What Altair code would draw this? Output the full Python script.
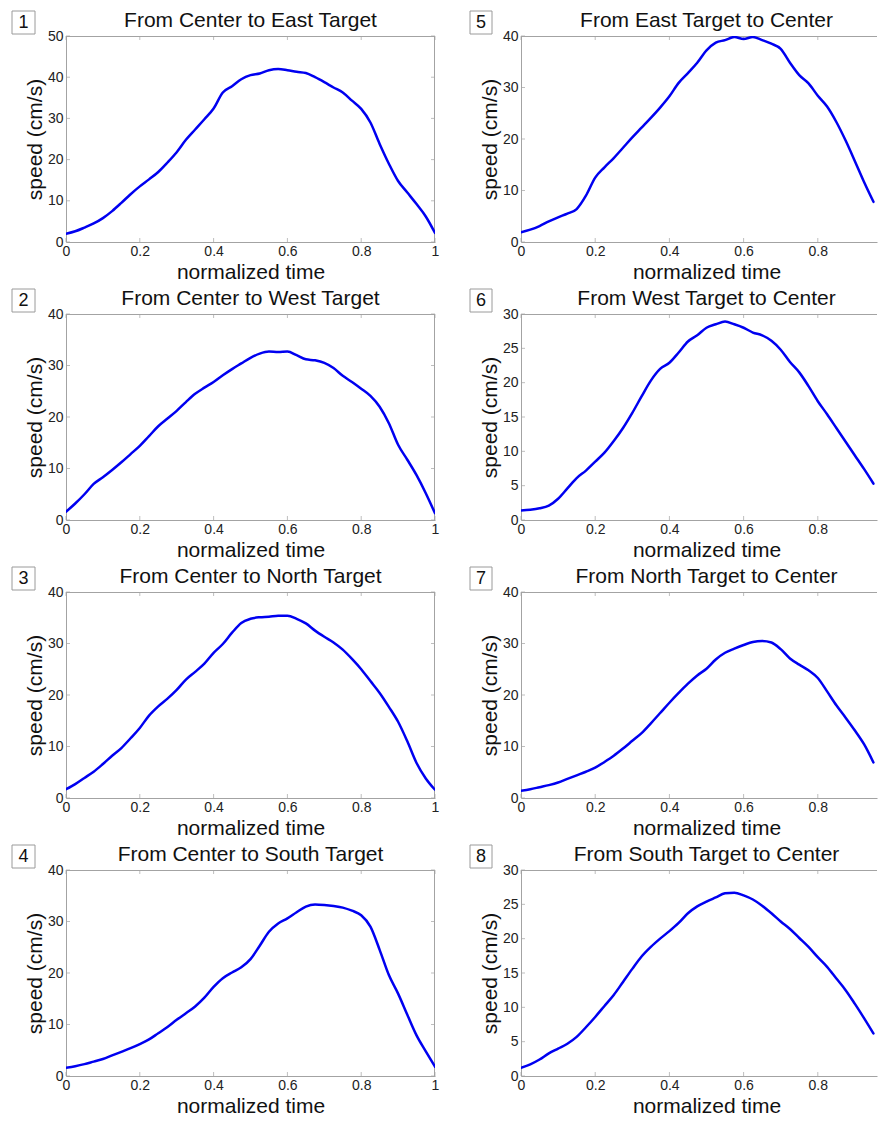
import altair as alt
import pandas as pd

# normalized time samples
T = [0, 0.025, 0.05, 0.075, 0.1, 0.125, 0.15, 0.175, 0.2, 0.225,
     0.25, 0.275, 0.3, 0.325, 0.35, 0.375, 0.4, 0.425, 0.45, 0.475,
     0.5, 0.525, 0.55, 0.575, 0.6, 0.625, 0.65, 0.675, 0.7, 0.725,
     0.75, 0.775, 0.8, 0.825, 0.85, 0.875, 0.9, 0.925, 0.95, 0.975, 1.0]

S1 = [2.0, 2.6, 3.5, 4.5, 5.8, 7.5, 9.5, 11.6, 13.5, 15.2,
      17.0, 19.3, 21.8, 24.8, 27.3, 29.8, 32.4, 36.3, 37.8, 39.5,
      40.5, 40.9, 41.7, 42.0, 41.7, 41.3, 41.0, 40.0, 38.8, 37.5,
      36.3, 34.3, 32.3, 29.0, 23.8, 19.0, 14.8, 12.0, 9.2, 6.2, 2.2]
S2 = [1.6, 3.2, 5.0, 7.0, 8.3, 9.7, 11.2, 12.8, 14.4, 16.3,
      18.2, 19.7, 21.2, 22.9, 24.5, 25.7, 26.8, 28.1, 29.3, 30.4,
      31.5, 32.3, 32.7, 32.6, 32.7, 32.0, 31.2, 31.0, 30.5, 29.5,
      28.0, 26.8, 25.5, 24.1, 22.0, 18.8, 14.6, 11.7, 8.7, 5.2, 1.3]
S3 = [1.7, 2.7, 3.9, 5.1, 6.6, 8.2, 9.7, 11.6, 13.6, 16.0,
      17.8, 19.3, 21.0, 23.0, 24.5, 26.1, 28.2, 29.9, 32.1, 34.0,
      34.8, 35.1, 35.2, 35.4, 35.4, 34.8, 33.9, 32.5, 31.3, 30.2,
      28.8, 27.0, 25.0, 22.7, 20.4, 17.7, 14.8, 11.0, 6.8, 3.8, 1.6]
S4 = [1.6, 1.9, 2.3, 2.8, 3.3, 4.0, 4.7, 5.4, 6.2, 7.1,
      8.3, 9.5, 10.9, 12.2, 13.5, 15.2, 17.3, 19.0, 20.1, 21.1,
      22.7, 25.3, 28.0, 29.6, 30.6, 31.8, 32.9, 33.3, 33.2, 33.0,
      32.7, 32.1, 31.2, 29.0, 24.5, 19.6, 16.0, 11.9, 7.9, 4.8, 1.8]
S5 = [1.9, 2.4, 3.1, 4.0, 4.8, 5.5, 6.4, 9.0, 12.5, 14.5,
      16.3, 18.3, 20.3, 22.2, 24.1, 26.1, 28.3, 30.9, 32.8, 34.8,
      37.2, 38.7, 39.2, 39.8, 39.4, 39.8, 39.2, 38.5, 37.5, 34.8,
      32.4, 30.8, 28.4, 26.3, 23.3, 19.7, 15.7, 11.6, 7.8, 4.1, 1.5]
S6 = [1.4, 1.5, 1.7, 2.1, 3.1, 4.6, 6.1, 7.2, 8.5, 9.8,
      11.5, 13.4, 15.6, 18.0, 20.3, 22.0, 22.9, 24.4, 26.0, 26.9,
      28.0, 28.5, 28.9, 28.5, 28.0, 27.3, 26.9, 26.1, 24.8, 23.0,
      21.5, 19.5, 17.3, 15.4, 13.4, 11.4, 9.4, 7.4, 5.3, 3.1, 1.5]
S7 = [1.4, 1.7, 2.1, 2.5, 3.0, 3.7, 4.4, 5.1, 5.9, 7.0,
      8.2, 9.6, 11.1, 12.6, 14.5, 16.5, 18.5, 20.4, 22.2, 23.8,
      25.1, 26.9, 28.2, 29.0, 29.7, 30.3, 30.5, 30.2, 28.9, 27.1,
      25.9, 24.8, 23.3, 20.7, 18.0, 15.6, 13.1, 10.4, 6.9, 3.8, 1.6]
S8 = [1.2, 1.7, 2.4, 3.3, 4.0, 4.7, 5.7, 7.1, 8.6, 10.2,
      11.8, 13.7, 15.6, 17.4, 18.8, 20.0, 21.1, 22.3, 23.7, 24.7,
      25.4, 26.0, 26.6, 26.7, 26.3, 25.7, 24.8, 23.7, 22.5, 21.4,
      20.1, 18.8, 17.3, 15.9, 14.2, 12.5, 10.5, 8.4, 6.2, 3.6, 1.2]

SERIES = [S1, S2, S3, S4, S5, S6, S7, S8]
NUMBERS = ["1", "2", "3", "4", "5", "6", "7", "8"]
TITLES = ["From Center to East Target", "From Center to West Target",
          "From Center to North Target", "From Center to South Target",
          "From East Target to Center", "From West Target to Center",
          "From North Target to Center", "From South Target to Center"]
YMAX = [50, 40, 40, 40, 40, 30, 40, 30]
YTICKS = [[0, 10, 20, 30, 40, 50], [0, 10, 20, 30, 40], [0, 10, 20, 30, 40],
          [0, 10, 20, 30, 40], [0, 10, 20, 30, 40], [0, 5, 10, 15, 20, 25, 30],
          [0, 10, 20, 30, 40], [0, 5, 10, 15, 20, 25, 30]]
XTICKS = [0, 0.2, 0.4, 0.6, 0.8, 1]
X_TITLE = "normalized time"
Y_TITLE = "speed (cm/s)"

FONT = "Liberation Sans"
FRAME = "#a3a3a3"
BLUE = "#0000f0"
H = 206
TL = 4


def panel(k, right):
    W = 356 if right else 369
    FW = 371 if right else 369
    xmax = W / FW
    xt = [v for v in XTICKS if v <= xmax + 1e-9]
    xscale = alt.Scale(domain=[0, xmax], nice=False, zero=False)
    yscale = alt.Scale(domain=[0, YMAX[k]], nice=False)
    df = pd.DataFrame({"t": T, "speed": SERIES[k]})
    df = df[df["t"] <= xmax + 1e-9]
    one = pd.DataFrame({"n": [NUMBERS[k]], "title": [TITLES[k]]})

    xaxis = alt.Axis(
        values=xt, format="~g", title=X_TITLE, titleX=FW / 2, titleY=36,
        titleBaseline="alphabetic", titleAlign="center", titleFont=FONT,
        titleFontSize=21, titleFontWeight="normal", titleColor="#111111",
        labelFont=FONT, labelFontSize=14, labelColor="#222222",
        labelPadding=2, labelFlush=False, ticks=False, tickSize=0,
        domain=True, domainColor=FRAME, domainWidth=1, grid=False)
    yaxis = alt.Axis(
        values=YTICKS[k], format="d", title=Y_TITLE, titleX=-25, titleY=H / 2,
        titleAngle=270, titleBaseline="alphabetic", titleAlign="center",
        titleFont=FONT, titleFontSize=21, titleFontWeight="normal",
        titleColor="#111111", labelFont=FONT, labelFontSize=14,
        labelColor="#222222", labelPadding=3, labelFlush=False,
        ticks=False, tickSize=0, domain=True, domainColor=FRAME,
        domainWidth=1, grid=False)

    line = alt.Chart(df).mark_line(
        color=BLUE, strokeWidth=2.5, clip=True, interpolate="monotone",
        strokeJoin="round", strokeCap="round"
    ).encode(
        x=alt.X("t:Q", scale=xscale, axis=xaxis),
        y=alt.Y("speed:Q", scale=yscale, axis=yaxis),
    )

    top = alt.Chart(one).mark_rule(color=FRAME, strokeWidth=1).encode(
        x=alt.value(0), x2=alt.value(W), y=alt.value(0.5))
    layers = [top]
    if not right:
        rgt = alt.Chart(one).mark_rule(color=FRAME, strokeWidth=1).encode(
            x=alt.value(W - 0.5), y=alt.value(0), y2=alt.value(H))
        layers.append(rgt)

    xt_df = pd.DataFrame({"t": xt})
    yt_df = pd.DataFrame({"speed": YTICKS[k]})
    for ypos in (H - TL / 2, TL / 2):
        layers.append(alt.Chart(xt_df).mark_tick(
            orient="vertical", size=TL, thickness=1, color=FRAME).encode(
            x=alt.X("t:Q", scale=xscale, axis=xaxis), y=alt.value(ypos)))
    xposs = [TL / 2] if right else [TL / 2, W - TL / 2]
    for xpos in xposs:
        layers.append(alt.Chart(yt_df).mark_tick(
            orient="horizontal", size=TL, thickness=1, color=FRAME).encode(
            y=alt.Y("speed:Q", scale=yscale, axis=yaxis), x=alt.value(xpos)))

    bx0, bx1 = (-51, -29) if right else (-54, -31)
    box = alt.Chart(one).mark_rect(fill="white", stroke="#9a9a9a", strokeWidth=1).encode(
        x=alt.value(bx0), x2=alt.value(bx1), y=alt.value(-25), y2=alt.value(-2))
    num = alt.Chart(one).mark_text(
        font=FONT, fontSize=18, color="#111111", align="center", baseline="middle"
    ).encode(text="n:N", x=alt.value((bx0 + bx1) / 2), y=alt.value(-13.5))
    ttl = alt.Chart(one).mark_text(
        font=FONT, fontSize=21, color="#111111", align="center", baseline="alphabetic"
    ).encode(text="title:N", x=alt.value(FW / 2), y=alt.value(-9))

    return alt.layer(box, num, ttl, *layers, line).properties(width=W, height=H)


order = [(0, False), (4, True), (1, False), (5, True),
         (2, False), (6, True), (3, False), (7, True)]
panels = [panel(k, r) for k, r in order]

chart = alt.concat(
    *panels, columns=2, spacing={"row": 72, "column": 86}, bounds="flush"
).properties(
    padding={"left": 3, "top": 2, "right": 0, "bottom": 0}
).configure_view(stroke=None)

chart.save("out.html", embed_options={"renderer": "svg", "actions": False})
